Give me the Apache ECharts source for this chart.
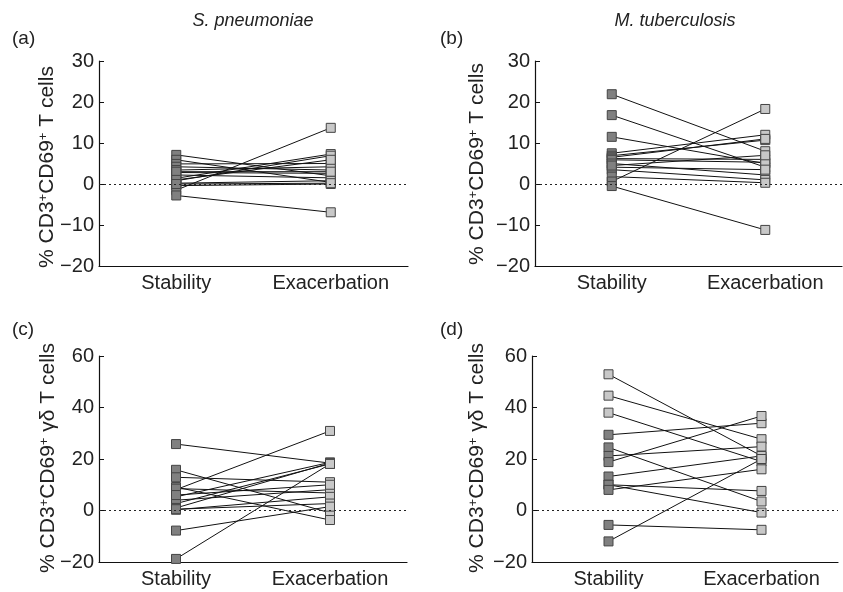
<!DOCTYPE html>
<html lang="en">
<head>
    <meta charset="UTF-8">
    <title>CD69 paired plots</title>
    <script src="https://cdn.jsdelivr.net/npm/echarts@6/dist/echarts.min.js"></script>
</head>
<body style="margin:0;background:#fff">
    <div id="main" style="width: 843px; height: 592px"></div>
    <script type="text/javascript">
        // categories and tick values
        const groups = ['Stability', 'Exacerbation'];
        const ticksCD69 = [-20, -10, 0, 10, 20, 30];
        const ticksGD = [-20, 0, 20, 40, 60];

        // (a) S. pneumoniae, CD3+CD69+ T cells
        const pneuT_stab = [7.1, 5.9, 4.9, 4.2, 3.4, 2.8, 2.2, 1.4, 0.8, 0.2, -0.4, -1.5, -2.8, 3.0, 1.0, 0.0];
        const pneuT_exac = [2.0, 0.4, 5.0, 3.4, 4.2, 2.6, 1.5, 7.3, 6.9, 0.8, 0.0, 13.7, -6.9, 3.0, 5.9, 0.2];
        // (b) M. tuberculosis, CD3+CD69+ T cells
        const tbT_stab = [21.9, 16.8, 11.5, 7.5, 6.9, 6.5, 6.2, 5.9, 5.0, 4.1, 3.5, 1.8, 0.6, -0.5, 4.5];
        const tbT_exac = [8.0, 4.1, 5.0, 12.0, 10.7, 11.0, 6.0, 5.3, 2.2, 3.5, 1.0, 0.3, 18.3, -11.2, 7.0];
        // (c) S. pneumoniae, CD3+CD69+ gd T cells
        const pneuGD_stab = [25.8, 15.8, 12.9, 9.1, 8.1, 8.5, 5.3, 4.0, 2.7, 1.0, 0.3, 0.5, -7.8, -18.8, 6.0];
        const pneuGD_exac = [18.4, -0.9, 11.0, -3.7, 30.9, 6.8, 18.7, 8.1, 18.1, 18.4, 5.3, 2.7, 1.5, 18.1, 10.0];
        // (d) M. tuberculosis, CD3+CD69+ gd T cells
        const tbGD_stab = [52.9, 44.6, 38.0, 29.4, 24.5, 21.2, 18.8, 13.2, 10.0, 10.0, 8.0, -5.6, -12.0];
        const tbGD_exac = [21.2, 27.7, 19.0, 33.9, 3.5, 24.8, 36.7, 21.2, 7.6, -0.8, 16.0, -7.5, 20.0];
        const tbGD_lightStab = [0, 1, 2];

        const DARK = '#808080', LIGHT = '#c8c8c8';
        const chart = echarts.init(document.getElementById('main'));

        const panels = [
            {stab: pneuT_stab, exac: pneuT_exac, ticks: ticksCD69, light: [],
             grid: {left: 99, top: 61, width: 309, height: 205}},
            {stab: tbT_stab, exac: tbT_exac, ticks: ticksCD69, light: [],
             grid: {left: 535, top: 61, width: 307, height: 205}},
            {stab: pneuGD_stab, exac: pneuGD_exac, ticks: ticksGD, light: [],
             grid: {left: 99, top: 356, width: 308, height: 206}},
            {stab: tbGD_stab, exac: tbGD_exac, ticks: ticksGD, light: tbGD_lightStab,
             grid: {left: 532, top: 356, width: 306, height: 206}}
        ];

        const fmt = v => v < 0 ? '\u2212' + Math.abs(v) : String(v);
        let grids = [], xAxes = [], yAxes = [], series = [];
        panels.forEach((p, k) => {
            grids.push(Object.assign({containLabel: false}, p.grid));
            xAxes.push({
                type: 'category', gridIndex: k, data: groups, boundaryGap: true,
                axisLine: {onZero: false, lineStyle: {color: '#111', width: 1.2}},
                axisTick: {inside: true, alignWithLabel: true, length: 5, lineStyle: {color: '#111'}},
                axisLabel: {color: '#222', fontSize: 20, margin: 7, fontFamily: 'Liberation Sans'}
            });
            yAxes.push({
                type: 'value', gridIndex: k,
                min: p.ticks[0], max: p.ticks[p.ticks.length - 1],
                interval: p.ticks[1] - p.ticks[0],
                splitLine: {show: false},
                axisLine: {show: true, lineStyle: {color: '#111', width: 1.2}},
                axisTick: {show: true, inside: true, length: 5, lineStyle: {color: '#111'}},
                axisLabel: {color: '#222', fontSize: 20, margin: 5, formatter: fmt, fontFamily: 'Liberation Sans'}
            });
            p.stab.forEach((s, i) => {
                let se = {
                    type: 'line', xAxisIndex: k, yAxisIndex: k,
                    data: [
                        {value: s, itemStyle: {color: p.light.includes(i) ? LIGHT : DARK}},
                        {value: p.exac[i], itemStyle: {color: LIGHT}}
                    ],
                    symbol: 'rect', symbolSize: 9,
                    itemStyle: {borderColor: '#444', borderWidth: 1},
                    lineStyle: {color: '#111', width: 1},
                    emphasis: {disabled: true},
                    animation: false
                };
                if (i === 0) {
                    se.markLine = {
                        silent: true, symbol: 'none', animation: false,
                        label: {show: false},
                        lineStyle: {color: '#222', type: [2, 3], width: 1},
                        data: [{yAxis: 0}]
                    };
                }
                series.push(se);
            });
        });

        const txt = {fill: '#222', fontFamily: 'Liberation Sans'};
        const nameStyle = (text, x, y) => ({
            type: 'text', x: x, y: y, rotation: Math.PI / 2,
            style: Object.assign({
                text: text, fontSize: 21, align: 'center', verticalAlign: 'middle',
                rich: {sup: {fontSize: 13, verticalAlign: 'top', fill: '#222'}}
            }, txt)
        });
        const graphic = [
            {type: 'text', x: 12, y: 39, style: Object.assign({text: '(a)', fontSize: 19, verticalAlign: 'middle'}, txt)},
            {type: 'text', x: 440, y: 39, style: Object.assign({text: '(b)', fontSize: 19, verticalAlign: 'middle'}, txt)},
            {type: 'text', x: 12, y: 330, style: Object.assign({text: '(c)', fontSize: 19, verticalAlign: 'middle'}, txt)},
            {type: 'text', x: 440, y: 330, style: Object.assign({text: '(d)', fontSize: 19, verticalAlign: 'middle'}, txt)},
            {type: 'text', x: 253, y: 21, style: Object.assign({text: 'S. pneumoniae', fontSize: 18, fontStyle: 'italic', align: 'center', verticalAlign: 'middle'}, txt)},
            {type: 'text', x: 675, y: 21, style: Object.assign({text: 'M. tuberculosis', fontSize: 18, fontStyle: 'italic', align: 'center', verticalAlign: 'middle'}, txt)},
            nameStyle('% CD3{sup|+}CD69{sup|+} T cells', 47, 167),
            nameStyle('% CD3{sup|+}CD69{sup|+} T cells', 477, 164),
            nameStyle('% CD3{sup|+}CD69{sup|+} \u03b3\u03b4 T cells', 48, 458),
            nameStyle('% CD3{sup|+}CD69{sup|+} \u03b3\u03b4 T cells', 477, 458)
        ];

        chart.setOption({
            animation: false,
            grid: grids, xAxis: xAxes, yAxis: yAxes,
            series: series, graphic: graphic
        });
    </script>
</body>
</html>
